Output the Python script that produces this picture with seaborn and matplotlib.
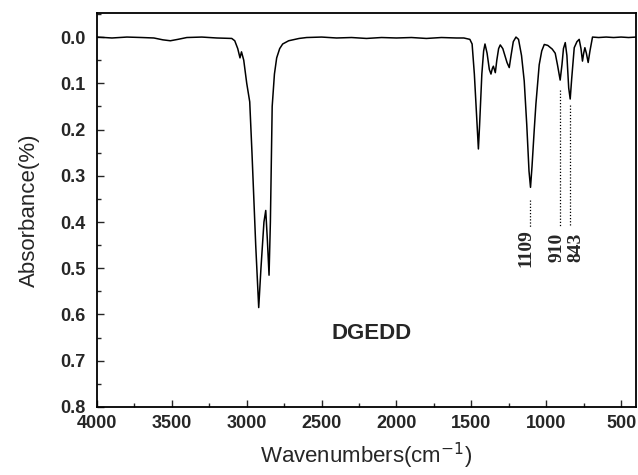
import matplotlib
matplotlib.use("Agg")
import matplotlib.pyplot as plt
import seaborn as sns
import pandas as pd
from matplotlib.ticker import MultipleLocator

wavenumber = [4000, 3900, 3800, 3700, 3620, 3560, 3510, 3460, 3400, 3300, 3200, 3100,
              3080, 3060, 3045, 3035, 3020, 3000, 2980, 2965, 2955, 2940, 2920, 2905,
              2885, 2873, 2862, 2851, 2842, 2830, 2815, 2800, 2780, 2760, 2720, 2650,
              2600, 2500, 2400, 2300, 2200, 2100, 2000, 1900, 1800, 1700, 1600,
              1550, 1510, 1495, 1480, 1465, 1453, 1445, 1430, 1418, 1409, 1395, 1380,
              1369, 1360, 1353, 1340, 1330, 1318, 1307, 1290, 1276, 1262, 1247, 1235,
              1220, 1202, 1185, 1165, 1147, 1130, 1115, 1105, 1095, 1080, 1069, 1047,
              1030, 1013, 990, 960, 940, 925, 907, 895, 885, 873, 862, 850, 840, 830,
              813, 795, 780, 768, 758, 750, 742, 732, 720, 708, 691, 650, 600, 550,
              500, 450, 400]
absorbance = [0.0, 0.002, 0.0, 0.001, 0.002, 0.006, 0.008, 0.005, 0.001, 0.0, 0.002, 0.003,
              0.008, 0.025, 0.045, 0.032, 0.05, 0.1, 0.14, 0.25, 0.33, 0.45, 0.585, 0.50,
              0.40, 0.375, 0.44, 0.515, 0.40, 0.15, 0.08, 0.045, 0.025, 0.015, 0.008, 0.003,
              0.001, 0.0, 0.002, 0.001, 0.003, 0.001, 0.002, 0.001, 0.003, 0.001, 0.002,
              0.002, 0.005, 0.015, 0.08, 0.17, 0.242, 0.19, 0.08, 0.03, 0.015, 0.035, 0.07,
              0.08, 0.068, 0.063, 0.077, 0.05, 0.025, 0.017, 0.025, 0.04, 0.055, 0.066, 0.04,
              0.01, 0.0, 0.005, 0.04, 0.095, 0.19, 0.29, 0.325, 0.28, 0.2, 0.145, 0.06,
              0.03, 0.016, 0.018, 0.026, 0.035, 0.06, 0.093, 0.06, 0.025, 0.012, 0.04, 0.11, 0.134, 0.09,
              0.023, 0.01, 0.005, 0.025, 0.052, 0.035, 0.023, 0.035, 0.055, 0.03, 0.0, 0.001, 0.0, 0.001,
              0.0, 0.001, 0.0]

x_ticks = [4000, 3500, 3000, 2500, 2000, 1500, 1000, 500]
x_tick_labels = ["4000", "3500", "3000", "2500", "2000", "1500", "1000", "500"]
y_ticks = [0.0, 0.1, 0.2, 0.3, 0.4, 0.5, 0.6, 0.7, 0.8]
y_tick_labels = ["0.0", "0.1", "0.2", "0.3", "0.4", "0.5", "0.6", "0.7", "0.8"]

peak_labels = ["1109", "910", "843"]

sns.set_style("ticks")
plt.rcParams['font.family'] = ['Liberation Sans', 'DejaVu Sans']

fig = plt.figure(figsize=(6.38, 4.75), dpi=100)
ax = fig.add_axes([0.152, 0.1432, 0.845, 0.8294])

df = pd.DataFrame({"w": wavenumber, "a": absorbance})
sns.lineplot(data=df, x="w", y="a", ax=ax, color="black", linewidth=1.1,
             estimator=None, sort=False)

ax.set_xlim(4000, 400)
ax.set_ylim(0.8, -0.052)
ax.xaxis.set_minor_locator(MultipleLocator(250))
ax.yaxis.set_minor_locator(MultipleLocator(0.05))
ax.set_xticks(x_ticks)
ax.set_xticklabels(x_tick_labels)
ax.set_yticks(y_ticks)
ax.set_yticklabels(y_tick_labels)
ax.tick_params(which="both", direction="in", top=False, right=False, width=1.0)
ax.tick_params(which="major", length=5)
ax.tick_params(which="minor", length=3)
ax.tick_params(axis="x", which="major", pad=6)
ax.tick_params(axis="y", which="major", pad=8)
for lab in ax.get_xticklabels() + ax.get_yticklabels():
    lab.set_fontweight("bold")
    lab.set_fontsize(13)
for s in ax.spines.values():
    s.set_visible(True)
    s.set_linewidth(1.3)
    s.set_color("black")

ax.set_xlabel("Wavenumbers(cm$^{-1}$)", fontsize=16, labelpad=6)
ax.set_ylabel("Absorbance(%)", fontsize=16, labelpad=15)

ax.text(2167, 0.642, "DGEDD", fontsize=16, fontweight="bold", ha="center", va="center")

# dotted guide lines for the labelled peaks
dots = (0, (1, 1.5))
ax.vlines([1107], 0.352, 0.411, colors="black", linestyles=dots, linewidth=0.9)
ax.vlines([907], 0.115, 0.411, colors="black", linestyles=dots, linewidth=0.9)
ax.vlines([840], 0.147, 0.406, colors="black", linestyles=dots, linewidth=0.9)

text_x = [1133, 927, 800]
text_top = [0.415, 0.424, 0.424]
for lab, tx, ty in zip(peak_labels, text_x, text_top):
    ax.text(tx, ty, lab, rotation=90, ha="center", va="top", fontsize=14,
            fontweight="bold", family=["Liberation Serif", "DejaVu Serif"])

fig.savefig("out.png", dpi=100)
